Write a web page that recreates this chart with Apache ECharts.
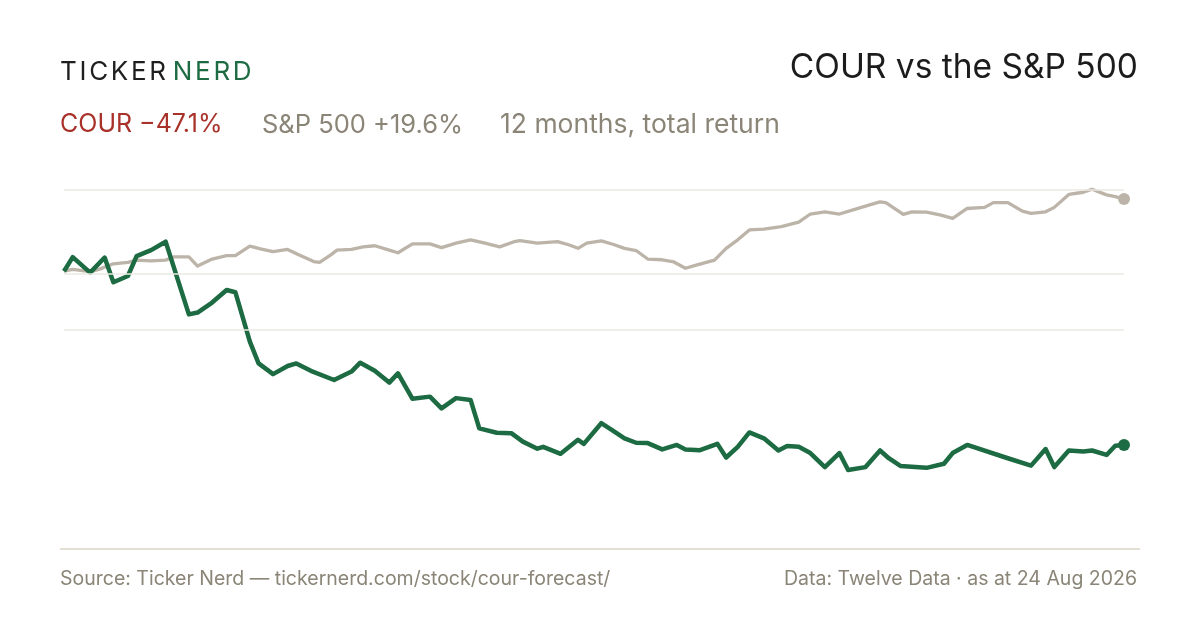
<!DOCTYPE html>
<html>
	<head>
		<meta charset="UTF-8">
		<title>COUR vs the S&amp;P 500</title>
		<style>
			html, body {
				margin: 0;
				padding: 0;
				background: #fff;
			}
			#main {
				width: 1200px;
				height: 630px;
			}
			.logo {
				position: absolute;
				left: 60px;
				top: 58px;
				font-family: Inter, sans-serif;
				font-size: 26px;
				line-height: 26px;
				letter-spacing: 2.7px;
				color: #1f1f1f;
			}
			.logo span {
				color: #1d6b42;
				margin-left: 4px;
			}
		</style>
	</head>
	<script src="https://cdn.jsdelivr.net/npm/echarts@6.0.0/dist/echarts.min.js"></script>
	<body>
		<div id="main"></div>
		<div class="logo">TICKER<span>NERD</span></div>
	</body>
	<script>
		// days since the start of the 12 month window, and total return in %
		var courDays = [0, 3, 9, 14, 17, 22, 25, 30, 35, 43, 46, 51, 56, 59, 64, 67, 72, 77, 80, 85,
			93, 99, 102, 107, 112, 115, 120, 126, 130, 135, 140, 143, 149, 154, 158, 163, 165, 171, 177, 179,
			185, 189, 193, 197, 201, 206, 211, 214, 219, 225, 228, 232, 236, 241, 246, 249, 253, 257, 262, 267,
			270, 276, 281, 284, 288, 297, 303, 306, 311, 325, 333, 338, 341, 346, 351, 354, 359, 362, 365]
		var courReturn = [0, 3.8, -0.4, 3.7, -3.0, -1.3, 4.1, 5.7, 8.0, -11.7, -11.2, -8.5, -5.1, -5.7, -19.1, -25.0, -27.9, -25.7, -25.0, -27.0,
			-29.5, -27.2, -24.8, -27.0, -30.2, -27.7, -34.6, -34.0, -37.2, -34.4, -34.9, -42.6, -43.8, -43.9, -46.2, -48.1, -47.6, -49.5, -45.7, -46.8,
			-41.2, -43.2, -45.3, -46.5, -46.6, -48.3, -47.1, -48.3, -48.5, -46.8, -50.5, -47.6, -43.7, -45.3, -48.6, -47.4, -47.6, -49.3, -53.1, -49.3,
			-53.9, -53.1, -48.6, -50.7, -52.8, -53.3, -52.2, -49.3, -47.1, -50.7, -52.7, -48.2, -53.1, -48.6, -48.9, -48.6, -49.8, -47.3, -47.1]

		var spxDays = [0, 3, 9, 12, 17, 22, 25, 30, 35, 38, 43, 46, 51, 56, 59, 64, 68, 72, 77, 81,
			86, 88, 92, 94, 99, 103, 107, 112, 115, 120, 126, 130, 135, 140, 145, 150, 155, 157, 163, 170,
			174, 177, 180, 185, 189, 193, 197, 201, 206, 210, 214, 218, 224, 228, 232, 236, 241, 247, 253, 257,
			262, 267, 272, 278, 281, 283, 289, 292, 297, 302, 306, 311, 317, 320, 325, 330, 333, 338, 341, 346,
			351, 354, 359, 362, 365]
		var spxReturn = [0, 0.5, -0.1, 0.5, 2.0, 2.4, 3.0, 2.8, 3.0, 3.9, 3.9, 1.4, 3.3, 4.2, 4.2, 6.8, 6.0, 5.3, 5.9, 4.4,
			2.6, 2.4, 4.5, 5.7, 5.9, 6.6, 6.9, 5.7, 5.0, 7.4, 7.4, 6.4, 7.6, 8.5, 7.6, 6.6, 8.0, 8.3, 7.6, 8.0,
			7.1, 6.2, 7.6, 8.2, 7.3, 6.2, 5.6, 3.3, 3.1, 2.5, 0.8, 1.7, 3.0, 6.2, 8.5, 11.2, 11.4, 12.1, 13.3, 15.5,
			16.1, 15.5, 16.7, 18.1, 18.8, 18.6, 15.4, 16.1, 16.0, 15.2, 14.3, 17.0, 17.3, 18.6, 18.6, 16.3, 15.7, 16.1, 17.3, 20.8,
			21.4, 22.2, 20.7, 20.2, 19.6]

		// reference lines behind the chart
		var guideLevels = [22.2, -0.6, -15.9]

		var courHeadline = '−47.1%'
		var spxHeadline = '+19.6%'

		function pairs (days, values) {
			var out = []
			for (var i = 0; i < days.length; i++) {
				out.push([days[i], values[i]])
			}
			return out
		}

		function lastPoint (days, values) {
			return [[days[days.length - 1], values[values.length - 1]]]
		}

		var green = '#1d6b42'
		var stone = '#bcb4a8'
		var muted = '#8a8577'
		var font = 'Inter, "Noto Sans", sans-serif'

		var myChart = echarts.init(document.getElementById('main'))

		var option = {
			backgroundColor: '#fff',
			animation: false,
			grid: {
				left: 64,
				right: 76,
				top: 189.3,
				bottom: 81
			},
			xAxis: {
				type: 'value',
				min: 0,
				max: 365,
				show: false
			},
			yAxis: {
				type: 'value',
				min: -75.3,
				max: 22.2,
				show: false
			},
			graphic: [
				{
					type: 'text',
					right: 62,
					top: 50.5,
					style: {
						text: 'COUR vs the S&P 500',
						font: '33.5px ' + font,
						fill: '#1c1c1c'
					}
				},
				{
					type: 'text',
					left: 60,
					top: 112,
					style: {
						text: 'COUR ' + courHeadline,
						font: '25px ' + font,
						fill: '#a8322a'
					}
				},
				{
					type: 'text',
					left: 262,
					top: 112,
					style: {
						text: 'S&P 500 ' + spxHeadline,
						font: '25.5px ' + font,
						fill: muted
					}
				},
				{
					type: 'text',
					left: 500,
					top: 111.5,
					style: {
						text: '12 months, total return',
						font: '26.5px ' + font,
						fill: muted
					}
				},
				{
					type: 'line',
					shape: { x1: 60, y1: 549, x2: 1140, y2: 549 },
					style: { stroke: '#e3dfd4', lineWidth: 2 }
				},
				{
					type: 'text',
					left: 60,
					top: 569,
					style: {
						text: 'Source: Ticker Nerd — tickernerd.com/stock/cour-forecast/',
						font: '19.5px ' + font,
						fill: muted
					}
				},
				{
					type: 'text',
					right: 63,
					top: 569,
					style: {
						text: 'Data: Twelve Data · as at 24 Aug 2026',
						font: '19.5px ' + font,
						fill: muted
					}
				}
			],
			series: [
				{
					type: 'line',
					data: [],
					silent: true,
					z: 1,
					markLine: {
						silent: true,
						symbol: 'none',
						label: { show: false },
						lineStyle: { color: '#ebe8e1', width: 1.5, type: 'solid' },
						data: guideLevels.map(function (v) { return { yAxis: v } })
					}
				},
				{
					name: 'S&P 500',
					type: 'line',
					data: pairs(spxDays, spxReturn),
					showSymbol: false,
					clip: false,
					z: 2,
					lineStyle: { color: stone, width: 3.3, join: 'round' }
				},
				{
					name: 'COUR',
					type: 'line',
					data: pairs(courDays, courReturn),
					showSymbol: false,
					clip: false,
					z: 3,
					lineStyle: { color: green, width: 4.5, join: 'round' }
				},
				{
					type: 'scatter',
					data: lastPoint(spxDays, spxReturn),
					symbolSize: 12,
					z: 4,
					itemStyle: { color: stone, opacity: 1 }
				},
				{
					type: 'scatter',
					data: lastPoint(courDays, courReturn),
					symbolSize: 12,
					z: 4,
					itemStyle: { color: green, opacity: 1 }
				}
			]
		}

		myChart.setOption(option)
	</script>
</html>
